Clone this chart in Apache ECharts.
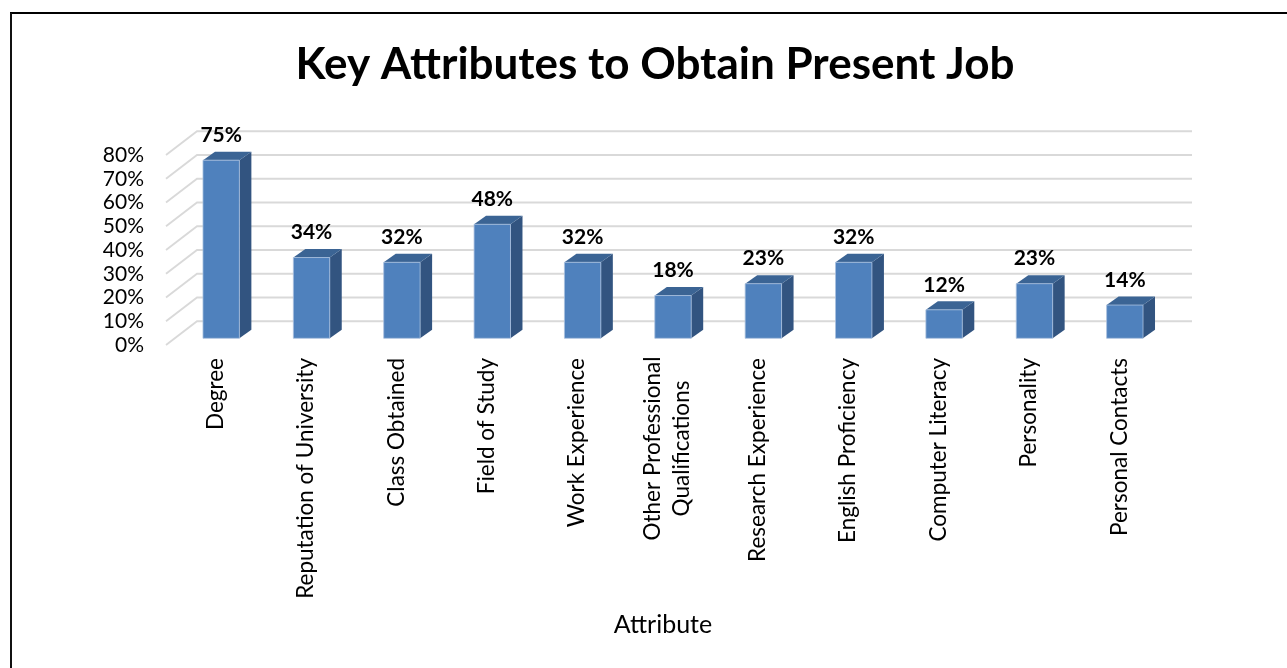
<!DOCTYPE html>
<html><head><meta charset="utf-8">
<style>html,body{margin:0;padding:0;background:#fff}#c{width:1287px;height:668px}</style>
<script src="https://cdn.jsdelivr.net/npm/echarts@6/dist/echarts.min.js"></script>
</head><body><div id="c"></div>
<script>
const categories = ["Degree","Reputation of University","Class Obtained","Field of Study","Work Experience","Other Professional\nQualifications","Research Experience","English Proficiency","Computer Literacy","Personality","Personal Contacts"];
const values = [75,34,32,48,32,18,23,32,12,23,14];
const yTicks = [0,10,20,30,40,50,60,70,80];
const FONT = 'Lato';
const chart = echarts.init(document.getElementById('c'), null, {renderer:'canvas'});
const GL = 168, GW = 994, GT = 155, GB = 345;
const wallDx = 29, wallDy = 23.75;
const barDx = 8, barDy = 6.7, depthX = 12, depthY = 8.5, barW = 36.4;
function wall(params, api){
  const p = api.coord([0, api.value(0)]);
  const cs = params.coordSys;
  const x0 = cs.x, x1 = cs.x + cs.width;
  return {type:'polyline', silent:true, shape:{points:[[x0-2,p[1]],[x0+wallDx,p[1]-wallDy],[x1+wallDx+1,p[1]-wallDy]]},
    style:{fill:null, stroke:'#d9d9d9', lineWidth:1.8}};
}
function bar3d(params, api){
  const top = api.coord([api.value(0), api.value(1)]);
  const base = api.coord([api.value(0), 0]);
  const cx = top[0] + barDx, l = cx - barW/2, r = cx + barW/2;
  const t = top[1] - barDy, b = base[1] - barDy;
  return {type:'group', children:[
    {type:'polygon', shape:{points:[[r,t],[r+depthX,t-depthY],[r+depthX,b-depthY],[r,b]]}, style:{fill:'#325480'}},
    {type:'polygon', shape:{points:[[l,t],[l+depthX,t-depthY],[r+depthX,t-depthY],[r,t]]}, style:{fill:'#3b6494'}},
    {type:'rect', shape:{x:l,y:t,width:barW,height:b-t}, style:{fill:'#4f81bd', stroke:'#a9c0de', lineWidth:0.8}},
    {type:'text', style:{x:cx, y:t-25, text:api.value(1)+'%', font:'bold 21px '+FONT, fill:'#000', align:'center', verticalAlign:'middle'}}
  ]};
}
chart.setOption({
  animation:false,
  backgroundColor:'#fff',
  title:{text:'Key Attributes to Obtain Present Job', left:650, top:60, textAlign:'center', textVerticalAlign:'middle',
    textStyle:{fontFamily:FONT, fontWeight:'bold', fontSize:44, color:'#000'}},
  grid:{left:GL, width:GW, top:GT, height:GB-GT},
  xAxis:{type:'category', data:categories, position:'bottom',
    name:'Attribute', nameLocation:'middle', nameGap:267,
    nameTextStyle:{fontFamily:FONT, fontSize:25, color:'#000', padding:[0,4,0,0]},
    axisLine:{show:false}, axisTick:{show:false},
    axisLabel:{interval:0, rotate:90, margin:13, fontFamily:FONT, fontSize:22.5, color:'#000', lineHeight:29, padding:[5,0,0,0],
      formatter:v=>v.includes('\n')?v.split('\n').map(s=>'{c|'+s+'}').join('\n'):v,
      rich:{c:{width:181, align:'center', fontFamily:FONT, fontSize:22.5, color:'#000', lineHeight:29}}}},
  yAxis:{type:'value', min:0, max:80, interval:10,
    axisLine:{show:false}, axisTick:{show:false}, splitLine:{show:false},
    axisLabel:{margin:24, fontFamily:FONT, fontSize:21, color:'#000', padding:[3,0,0,0], formatter:'{value}%'}},
  graphic:[
    {type:'line', shape:{x1:10,y1:13,x2:1287,y2:13}, style:{stroke:'#000', lineWidth:2}},
    {type:'line', shape:{x1:11,y1:13,x2:11,y2:668}, style:{stroke:'#111', lineWidth:2}}
  ],
  series:[
    {type:'custom', name:'wall', coordinateSystem:'cartesian2d', data:yTicks.map(v=>[v]), encode:{y:0}, renderItem:wall, silent:true, z:1},
    {type:'custom', name:'bars', coordinateSystem:'cartesian2d', data:values.map((v,i)=>[i,v]), encode:{x:0,y:1}, renderItem:bar3d, z:2}
  ]
});
</script></body></html>
